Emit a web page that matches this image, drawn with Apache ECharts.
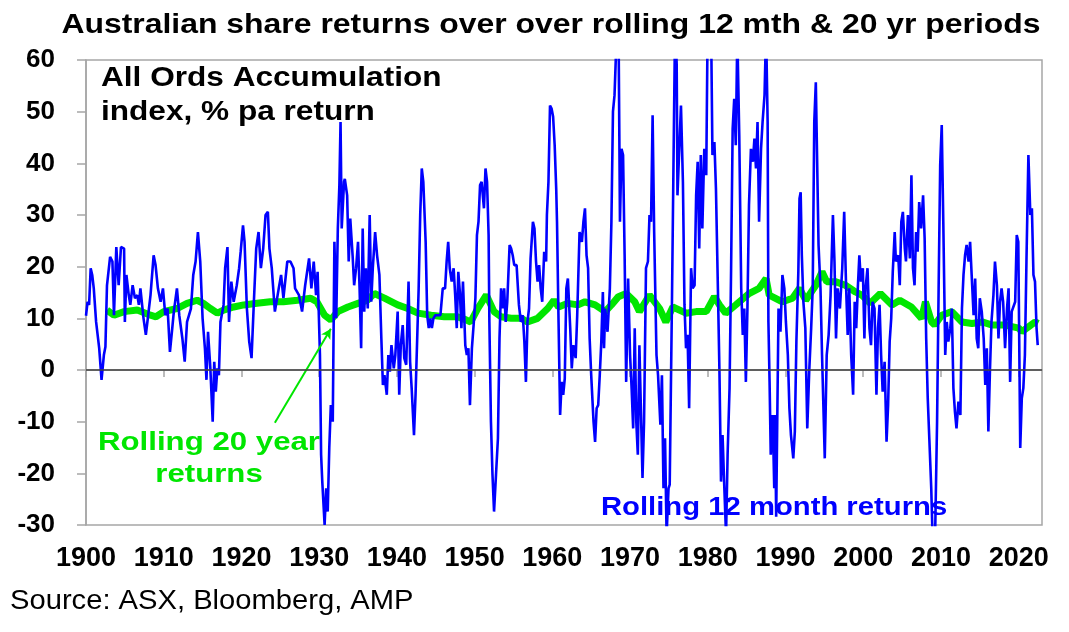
<!DOCTYPE html>
<html><head><meta charset="utf-8">
<script src="https://cdn.jsdelivr.net/npm/echarts@6/dist/echarts.min.js"></script>
<style>html,body{margin:0;padding:0;background:#fff}#c{width:1069px;height:632px}</style>
</head><body><div id="c"></div>
<script>
var titleText = 'Australian share returns over over rolling 12 mth & 20 yr periods';
var noteText = 'All Ords Accumulation\nindex, % pa return';
var label20y = 'Rolling 20 year\nreturns';
var label12m = 'Rolling 12 month returns';
var sourceText = 'Source: ASX, Bloomberg, AMP';
var xTicks = [1900,1910,1920,1930,1940,1950,1960,1970,1980,1990,2000,2010,2020];
var yTicks = [-30,-20,-10,0,10,20,30,40,50,60];

var rolling12m = [
[1900.0,10.5],[1900.2,13.2],[1900.4,12.6],[1900.6,19.7],[1900.8,18.4],[1901.0,15.8],[1901.3,9.3],[1901.7,4.2],[1902.0,-1.9],[1902.3,2.9],[1902.5,4.5],[1902.7,16.4],[1903.1,21.9],[1903.4,21],[1903.6,10.6],[1903.9,23.8],[1904.2,16.4],[1904.5,23.8],[1904.9,23.5],[1905.0,9.3],[1905.2,18.4],[1905.5,14.5],[1905.7,12.6],[1906.0,16.4],[1906.3,13.9],[1906.6,14.5],[1906.8,12.6],[1907.0,15.8],[1907.4,10],[1907.7,6.8],[1908.0,10.6],[1908.3,14.5],[1908.7,22.2],[1908.95,20.3],[1909.25,15.8],[1909.6,13.2],[1909.9,15.8],[1910.2,10.6],[1910.5,11.9],[1910.8,3.5],[1911.1,8.1],[1911.3,11.3],[1911.7,15.8],[1912.0,10.6],[1912.4,6.1],[1912.7,1.6],[1913.0,9.3],[1913.5,11.9],[1913.8,18.4],[1914.1,21],[1914.4,26.7],[1914.7,21],[1915.0,10],[1915.3,4.2],[1915.5,-1.9],[1915.7,7.4],[1916.0,0.3],[1916.3,-10],[1916.5,1.6],[1916.7,-4.2],[1916.9,0.3],[1917.1,-1],[1917.3,9.3],[1917.7,12.6],[1917.9,19.7],[1918.2,23.8],[1918.4,9.3],[1918.7,17.1],[1919.0,13.2],[1919.4,16.4],[1919.7,19.7],[1919.9,22.9],[1920.2,28],[1920.4,24.8],[1920.7,11.9],[1921.0,5.5],[1921.3,2.3],[1921.6,13.2],[1921.9,23.5],[1922.2,26.7],[1922.5,19.7],[1922.8,23.5],[1923.1,30],[1923.4,30.6],[1923.6,23.5],[1923.9,19.7],[1924.3,11.3],[1924.5,11.3],[1924.8,15.8],[1925.1,18.4],[1925.4,13.9],[1925.9,21],[1926.3,21],[1926.7,19.7],[1926.9,15.8],[1927.4,14.5],[1927.8,11.3],[1928.2,16.4],[1928.7,21.6],[1929.0,15.8],[1929.3,21],[1929.6,14.5],[1929.8,19],[1930.1,2.9],[1930.25,-16.4],[1930.4,-21.6],[1930.7,-30],[1930.9,-22.9],[1931.1,-27.4],[1931.3,-15.1],[1931.5,-6.8],[1931.75,-10],[1931.96,24.8],[1932.2,10],[1932.4,27.4],[1932.6,35.8],[1932.75,48],[1932.9,27.4],[1933.2,36.4],[1933.3,37],[1933.6,33.8],[1933.8,21],[1934.0,29.3],[1934.3,22.2],[1934.5,16.4],[1934.75,19.7],[1935.0,24.8],[1935.2,15.8],[1935.4,4.2],[1935.6,27.4],[1935.8,11.3],[1936.0,19.7],[1936.25,11.9],[1936.5,30],[1936.7,13.2],[1936.9,19.7],[1937.2,26.7],[1937.45,22.2],[1937.75,18.4],[1938.0,6.1],[1938.2,-2.9],[1938.4,-1],[1938.7,-4.8],[1938.9,2.9],[1939.1,-0.3],[1939.3,4.8],[1939.6,0.3],[1939.8,2.9],[1940.1,11.3],[1940.3,-4.8],[1940.5,4.8],[1940.75,8.7],[1940.95,2.3],[1941.2,1],[1941.5,17.1],[1941.7,1.6],[1941.9,-3.5],[1942.2,-12.6],[1942.4,-4.8],[1942.6,-4.5],[1942.8,15.8],[1943.0,30],[1943.2,39],[1943.4,36.4],[1943.7,24.8],[1943.9,10.6],[1944.1,8.1],[1944.3,10],[1944.5,8.1],[1944.7,10],[1944.95,10.6],[1945.2,10.6],[1945.6,10.6],[1945.9,15.8],[1946.2,15.8],[1946.4,21],[1946.6,24.8],[1946.8,19.7],[1947.05,17.1],[1947.3,19.7],[1947.5,14.5],[1947.7,8.1],[1947.9,19],[1948.1,15.1],[1948.3,8.1],[1948.5,17.1],[1948.8,4.8],[1949.0,2.9],[1949.2,4.2],[1949.4,-6.8],[1949.65,4.2],[1949.9,9.3],[1950.1,13.9],[1950.3,26.1],[1950.5,28.7],[1950.7,35.8],[1950.9,36.4],[1951.2,31.3],[1951.4,39],[1951.6,36.4],[1951.8,26.1],[1951.9,9.3],[1952.1,-10],[1952.3,-20.3],[1952.5,-27.4],[1952.75,-20.3],[1953.0,-13.2],[1953.2,6.1],[1953.4,15.8],[1953.6,11.9],[1953.8,15.8],[1954.0,9.3],[1954.2,13.2],[1954.5,24.2],[1954.7,23.5],[1954.9,22.2],[1955.1,20.3],[1955.4,20.3],[1955.7,12.6],[1955.95,9.3],[1956.2,10.6],[1956.4,5.5],[1956.6,-2.3],[1956.8,9.3],[1957.0,11.9],[1957.2,21.6],[1957.5,28.7],[1957.7,27.4],[1957.9,21],[1958.1,17.1],[1958.3,20.3],[1958.5,15.8],[1958.7,13.2],[1958.95,22.9],[1959.2,21],[1959.3,30],[1959.5,36.4],[1959.7,51.2],[1959.9,50.6],[1960.1,49],[1960.3,43.5],[1960.5,35],[1960.6,28.7],[1960.8,9.3],[1961.0,-8.7],[1961.2,-2.3],[1961.4,-4.8],[1961.6,-1.6],[1961.8,15.8],[1962.0,17.7],[1962.3,8.1],[1962.5,0.3],[1962.7,4.8],[1963.0,2.3],[1963.2,10.6],[1963.5,26.7],[1963.8,24.8],[1964.0,28.7],[1964.2,31.3],[1964.4,22.2],[1964.6,19.7],[1964.8,6.1],[1965.0,-1],[1965.3,-10],[1965.5,-13.9],[1965.7,-7.4],[1965.9,-6.8],[1966.1,-1],[1966.3,5.5],[1966.5,15.1],[1966.65,4.2],[1966.8,11.9],[1967.1,7.4],[1967.4,15.8],[1967.6,28.7],[1967.8,50],[1968.0,53.2],[1968.3,66],[1968.5,70],[1968.7,28.7],[1968.9,42.8],[1969.1,41.6],[1969.3,22.2],[1969.5,-2.3],[1969.75,17.7],[1970.0,2.9],[1970.2,-3.5],[1970.4,-11.3],[1970.6,8.1],[1970.8,-10],[1971.0,-16.4],[1971.2,4.8],[1971.6,-20.9],[1971.8,-10],[1972.05,19.7],[1972.3,21],[1972.5,30],[1972.7,28.7],[1972.9,49.3],[1973.1,26.7],[1973.4,2.9],[1973.6,-1],[1973.9,-10.6],[1974.1,-1],[1974.3,-22.9],[1974.5,-13.2],[1974.7,-32],[1974.95,-22.9],[1975.1,-22.2],[1975.4,14.5],[1975.6,41.6],[1975.8,68],[1976.0,59],[1976.1,33.8],[1976.3,41.6],[1976.55,51.2],[1976.8,36.4],[1977.0,12.6],[1977.2,4.2],[1977.4,6.8],[1977.6,-7.4],[1977.85,19.7],[1978.05,15.8],[1978.3,16.4],[1978.5,33.8],[1978.7,40.3],[1978.9,23.5],[1979.1,41.6],[1979.3,27.4],[1979.55,42.8],[1979.8,37.7],[1980.0,70],[1980.2,75],[1980.4,70],[1980.6,41.6],[1980.85,44.1],[1981.05,35.1],[1981.3,15.8],[1981.5,-0.3],[1981.7,-21.6],[1981.9,-12.6],[1982.1,-21.6],[1982.35,-32],[1982.55,-16.4],[1982.8,-3.5],[1983.0,19.7],[1983.2,46.7],[1983.4,52.5],[1983.6,43.5],[1983.8,65],[1984.05,45.4],[1984.3,15.8],[1984.5,6.8],[1984.7,11.9],[1984.9,-2.3],[1985.1,11.9],[1985.3,31.9],[1985.55,42.8],[1985.8,40.3],[1986.0,44.8],[1986.2,39],[1986.4,48],[1986.6,28.7],[1986.85,42.8],[1987.05,48],[1987.3,53.2],[1987.5,66],[1987.7,48],[1987.8,9.3],[1987.95,-2.3],[1988.1,-16.4],[1988.35,-8.7],[1988.55,-22.9],[1988.65,-8.7],[1988.8,-28.4],[1989.1,11.9],[1989.35,7.4],[1989.6,18.4],[1989.85,15.8],[1990.05,9.3],[1990.3,2.9],[1990.5,-7.4],[1990.7,-12.6],[1991.0,-17.1],[1991.2,-11.9],[1991.4,5.5],[1991.65,19],[1991.8,33.2],[1991.95,34.4],[1992.1,22.2],[1992.3,13.2],[1992.55,8.1],[1992.8,-11.3],[1993.05,-0.3],[1993.3,8.1],[1993.5,15.8],[1993.7,48],[1993.9,55.7],[1994.05,55.7],[1994.25,24.2],[1994.5,15.8],[1994.7,2.9],[1995.05,-17.1],[1995.3,2.9],[1995.55,6.8],[1995.8,14.5],[1996.1,30],[1996.3,21],[1996.5,6.1],[1996.7,15.8],[1997.0,11.9],[1997.3,19.7],[1997.55,30.6],[1997.8,15.8],[1998.0,6.8],[1998.2,15.8],[1998.45,2.9],[1998.7,-4.8],[1998.9,13.2],[1999.1,8.1],[1999.3,15.8],[1999.5,22.2],[1999.7,17.1],[1999.95,19.7],[2000.15,6.1],[2000.3,15.8],[2000.55,19.7],[2000.8,8.1],[2001.0,4.8],[2001.2,13.2],[2001.45,11.9],[2001.7,-4.8],[2001.9,8.1],[2002.1,12.6],[2002.3,2.9],[2002.5,-4.2],[2002.75,1.6],[2003.0,-13.9],[2003.2,-6.8],[2003.4,5.5],[2003.6,10],[2003.8,19],[2004.05,26.7],[2004.2,21],[2004.5,22.2],[2004.7,16.4],[2004.9,28.7],[2005.1,30.6],[2005.35,23.5],[2005.5,21],[2005.75,30],[2006.0,21.6],[2006.2,37.7],[2006.4,19.7],[2006.6,16.4],[2006.8,26.7],[2007.0,22.9],[2007.2,32.5],[2007.45,27.4],[2007.7,33.8],[2007.9,25.5],[2008.1,6.1],[2008.3,-5.5],[2008.5,-13.2],[2008.75,-22.9],[2008.95,-34],[2009.25,-32],[2009.5,-10],[2009.7,15.8],[2009.9,39.6],[2010.1,47.4],[2010.3,28.7],[2010.55,2.9],[2010.75,9.3],[2010.95,5.5],[2011.2,8.1],[2011.4,11.9],[2011.6,-3.5],[2011.8,-8.1],[2012.0,-11.3],[2012.25,-6.1],[2012.5,-8.7],[2012.7,11.9],[2012.9,18.4],[2013.1,22.2],[2013.3,24.2],[2013.55,21],[2013.75,24.8],[2013.95,18.4],[2014.2,10.6],[2014.4,17.7],[2014.6,6.1],[2014.8,4.2],[2015.0,13.9],[2015.25,11.3],[2015.5,6.1],[2015.7,-2.9],[2015.9,4.2],[2016.1,-11.9],[2016.3,-0.3],[2016.5,9.3],[2016.75,14.5],[2016.95,21],[2017.2,16.4],[2017.4,6.1],[2017.6,13.2],[2017.8,15.8],[2018.0,13.2],[2018.25,4.2],[2018.5,11.9],[2018.7,15.8],[2018.9,-2.3],[2019.1,11.3],[2019.3,11.3],[2019.55,13.2],[2019.75,26.1],[2019.95,24.8],[2020.2,-15.1],[2020.4,-5.5],[2020.6,-3.5],[2020.8,2.9],[2021.0,21],[2021.25,41.6],[2021.5,30],[2021.7,31.3],[2021.9,18.4],[2022.1,17.1],[2022.3,8.1],[2022.45,4.8]
];

var rolling20y = [
[1902.7,11.6],[1903.6,10.6],[1904.9,11.3],[1906.6,11.6],[1908.3,10.6],[1909.0,10.3],[1910.0,11.3],[1911.7,11.9],[1913.0,12.9],[1914.3,13.5],[1915.1,12.9],[1916.0,11.9],[1916.9,11],[1917.7,11.6],[1919.0,12.2],[1920.3,12.6],[1922.0,12.9],[1923.7,13.2],[1925.4,13.2],[1927.2,13.5],[1928.9,13.9],[1929.7,13.2],[1930.7,10.6],[1931.5,9.7],[1932.4,11.3],[1933.7,12.2],[1935.0,12.9],[1936.2,13.5],[1937.1,14.8],[1938.4,13.9],[1940.1,12.6],[1941.4,11.9],[1942.7,11],[1944.4,10.6],[1946.1,10.3],[1947.8,10.3],[1948.9,9.7],[1949.5,9.3],[1950.4,11.9],[1951.5,14.5],[1952.5,11.3],[1953.4,10.3],[1954.7,10],[1956.0,10],[1956.8,9.3],[1958.1,10],[1959.4,11.9],[1960.2,13.5],[1960.8,12.2],[1962.0,12.9],[1963.3,12.6],[1964.2,13.2],[1965.5,12.6],[1966.8,11.3],[1967.6,12.6],[1968.5,14.2],[1969.5,14.8],[1970.6,13.2],[1971.2,11.3],[1972.5,14.5],[1973.8,11.9],[1974.6,9.3],[1975.5,12.2],[1977.2,11],[1978.5,11.3],[1979.8,11.3],[1980.85,14.2],[1981.5,12.6],[1982.3,11],[1983.6,12.6],[1985.3,14.8],[1986.6,15.8],[1987.5,17.7],[1987.9,14.5],[1989.6,13.2],[1990.9,13.9],[1991.8,15.8],[1992.6,13.5],[1993.9,16.4],[1994.7,19],[1995.3,17.1],[1996.4,17.1],[1997.7,16.4],[1999.0,15.1],[1999.8,14.5],[2000.9,12.9],[2002.2,14.8],[2003.7,12.6],[2004.7,13.5],[2006.2,12.2],[2007.5,10],[2008.0,13.2],[2008.8,9.3],[2009.2,8.7],[2010.1,10.6],[2011.4,11.3],[2012.7,9.3],[2014.0,9],[2015.3,9.3],[2016.6,8.7],[2018.3,8.7],[2020.0,8.1],[2020.4,7.4],[2021.3,8.4],[2022.1,9.3],[2022.5,9]
];

var FONT = '"Liberation Sans", Arial, sans-serif';
var GREEN = '#00e600', BLUE = '#0000ff';
var chart = echarts.init(document.getElementById('c'), null, {renderer:'canvas'});
chart.setOption({
  animation:false,
  backgroundColor:'#fff',
  grid:{left:86,right:27,top:60,bottom:107,show:true,borderColor:'#a6a6a6',borderWidth:1.5,backgroundColor:'transparent'},
  xAxis:{type:'value',min:xTicks[0],max:2023,interval:10,
    axisLine:{show:true,lineStyle:{color:'#a6a6a6',width:1.5}},
    axisTick:{show:true,length:7,inside:false,lineStyle:{color:'#a6a6a6',width:1.5}},
    axisLabel:{showMaxLabel:false,margin:20,color:'#000',fontFamily:FONT,fontSize:27,fontWeight:'bold',
      formatter:function(v){return xTicks.indexOf(v)>=0? String(v):'';}},
    splitLine:{show:false}},
  yAxis:{type:'value',min:yTicks[0],max:yTicks[yTicks.length-1],interval:10,
    axisLine:{show:true,lineStyle:{color:'#a6a6a6',width:1.5}},
    axisTick:{show:true,length:9,lineStyle:{color:'#a6a6a6',width:1.5}},
    axisLabel:{margin:31,color:'#000',fontFamily:FONT,fontSize:26,fontWeight:'bold'},
    splitLine:{show:false}},
  series:[
    {type:'line',name:'Rolling 20 year returns',data:rolling20y,showSymbol:false,symbol:'none',clip:true,
     lineStyle:{color:GREEN,width:7},z:2,
     markLine:{silent:true,symbol:['none','arrow'],symbolSize:[8,10],label:{show:false},
       lineStyle:{color:GREEN,width:2,type:'solid'},
       data:[[{coord:[1924.3,-10.2]},{coord:[1931.5,8.0]}]]}},
    {type:'line',name:label12m,data:rolling12m,showSymbol:false,symbol:'none',clip:true,
     lineStyle:{color:BLUE,width:2.6},z:3,
     markLine:{silent:true,symbol:['none','none'],label:{show:false},
       lineStyle:{color:'#404040',width:1.5,type:'solid'},data:[{yAxis:0}]}}
  ],
  graphic:[
    {type:'text',x:551,y:25,scaleX:1.14,style:{text:titleText,fill:'#000',font:'bold 28px '+FONT,textAlign:'center',textVerticalAlign:'middle'}},
    {type:'text',x:101,y:62,scaleX:1.17,style:{text:noteText,fill:'#000',font:'bold 27px '+FONT,lineHeight:34,textAlign:'left',textVerticalAlign:'top'}},
    {type:'text',x:209,y:427,scaleX:1.2,style:{text:label20y,fill:GREEN,font:'bold 26px '+FONT,lineHeight:32,textAlign:'center',textVerticalAlign:'top'}},
    {type:'text',x:601,y:508,scaleX:1.17,style:{text:label12m,fill:BLUE,font:'bold 25px '+FONT,textAlign:'left',textVerticalAlign:'middle'}},
    {type:'text',x:10,y:602,scaleX:1.08,style:{text:sourceText,fill:'#000',font:'27px '+FONT,textAlign:'left',textVerticalAlign:'middle'}}
  ]
});
</script></body></html>
